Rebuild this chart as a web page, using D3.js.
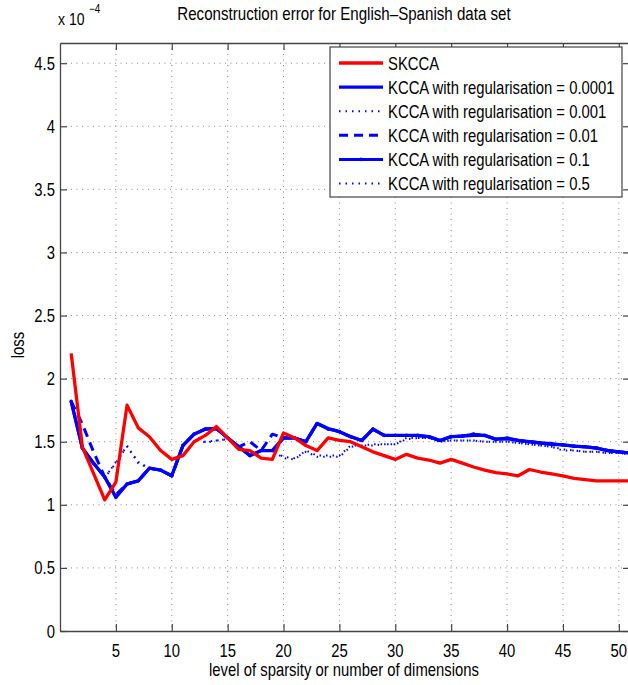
<!DOCTYPE html>
<html>
<head>
<meta charset="utf-8">
<script src="https://cdn.jsdelivr.net/npm/d3@7"></script>
<style>
  body { margin: 0; background: #fff; }
  text { font-family: "Liberation Sans", Arial, Helvetica, sans-serif; fill: #000; }
</style>
</head>
<body>
<svg id="chart" width="628" height="685"></svg>
<script>
// Level of sparsity / number of dimensions
const dims = [1,2,3,4,5,6,7,8,9,10,11,12,13,14,15,16,17,18,19,20,21,22,23,24,25,26,
  27,28,29,30,31,32,33,34,35,36,37,38,39,40,41,42,43,44,45,46,47,48,49,50,51];

// Reconstruction loss, in units of 1e-4
const skcca = [2.20,1.46,1.25,1.04,1.18,1.79,1.61,1.54,1.43,1.36,1.39,1.50,1.55,1.62,1.53,
  1.44,1.43,1.37,1.36,1.57,1.53,1.47,1.43,1.53,1.51,1.50,1.46,1.42,1.39,1.36,1.40,1.37,1.355,
  1.33,1.36,1.33,1.30,1.275,1.255,1.245,1.23,1.28,1.26,1.245,1.23,1.21,1.20,1.19,1.19,1.19,1.19];

const kcca0001 = [1.82,1.45,1.33,1.22,1.06,1.165,1.19,1.29,1.275,1.23,1.47,1.56,1.60,1.605,1.53,
  1.46,1.39,1.43,1.43,1.53,1.53,1.50,1.645,1.605,1.58,1.54,1.51,1.60,1.55,1.55,1.55,1.55,1.54,
  1.51,1.54,1.545,1.55,1.55,1.52,1.525,1.51,1.50,1.49,1.48,1.475,1.465,1.46,1.45,1.43,1.42,1.41];

const kcca001 = [1.82,1.45,1.33,1.22,1.33,1.47,1.33,1.29,1.275,1.23,1.47,1.56,1.49,1.51,1.52,
  1.46,1.39,1.43,1.43,1.37,1.36,1.43,1.39,1.39,1.39,1.47,1.47,1.48,1.48,1.48,1.53,1.53,1.53,
  1.50,1.51,1.51,1.51,1.50,1.50,1.50,1.49,1.48,1.47,1.46,1.43,1.43,1.42,1.42,1.41,1.41,1.40];

const kcca01 = [1.82,1.64,1.42,1.22,1.08,1.165,1.19,1.29,1.275,1.23,1.47,1.56,1.60,1.605,1.53,
  1.46,1.50,1.43,1.56,1.53,1.53,1.50,1.645,1.605,1.58,1.54,1.51,1.60,1.55,1.55,1.55,1.55,1.54,
  1.51,1.54,1.545,1.56,1.55,1.52,1.525,1.51,1.50,1.49,1.48,1.475,1.465,1.46,1.45,1.43,1.42,1.41];

const kcca1 = [1.82,1.45,1.33,1.22,1.06,1.165,1.19,1.29,1.275,1.23,1.47,1.56,1.60,1.605,1.53,
  1.46,1.39,1.43,1.43,1.53,1.53,1.50,1.645,1.60,1.58,1.54,1.51,1.60,1.55,1.55,1.55,1.55,1.54,
  1.51,1.54,1.545,1.56,1.55,1.52,1.53,1.51,1.50,1.49,1.485,1.475,1.465,1.46,1.45,1.43,1.42,1.41];

const kcca5 = [1.82,1.45,1.33,1.21,1.34,1.46,1.34,1.29,1.275,1.23,1.47,1.56,1.50,1.51,1.52,
  1.46,1.39,1.43,1.43,1.38,1.37,1.42,1.38,1.38,1.38,1.46,1.47,1.47,1.48,1.48,1.52,1.53,1.53,
  1.50,1.51,1.51,1.51,1.50,1.50,1.50,1.49,1.48,1.47,1.46,1.44,1.43,1.42,1.42,1.41,1.41,1.40];

const seriesNames = ["SKCCA", "KCCA with regularisation = 0.0001", "KCCA with regularisation = 0.001",
  "KCCA with regularisation = 0.01", "KCCA with regularisation = 0.1", "KCCA with regularisation = 0.5"];
const seriesValues = [skcca, kcca0001, kcca001, kcca01, kcca1, kcca5];

const xTicks = [5,10,15,20,25,30,35,40,45,50];
const yTicks = [0,0.5,1,1.5,2,2.5,3,3.5,4,4.5];
const yTickLabels = ["0","0.5","1","1.5","2","2.5","3","3.5","4","4.5"];

const titleText = "Reconstruction error for English\u2013Spanish data set";
const xLabel = "level of sparsity or number of dimensions";
const yLabel = "loss";

// Line styles per series: colour, width, dash pattern, marker
const styles = [
  { color: "#ff0000", width: 3.3, dash: null, marker: false },
  { color: "#0000ff", width: 3.3, dash: null, marker: false },
  { color: "#0000ff", width: 2, dash: "1.5,5", marker: false },
  { color: "#0000ff", width: 3, dash: "9,6", marker: false },
  { color: "#0000ff", width: 3, dash: null, marker: true },
  { color: "#0000ff", width: 2, dash: "1.5,5", marker: false }
];

const svg = d3.select("#chart");
const L = 60, R = 630, T = 43, B = 631;
const x = d3.scaleLinear().domain([0, 51]).range([L, R]);
const y = d3.scaleLinear().domain([0, 4.66]).range([B, T]);
const sx = 0.825; // horizontal squeeze of text

function addText(g, px, py, str, anchor, size, rot, squeeze) {
  const k = squeeze || sx;
  const tr = `translate(${px},${py})` + (rot ? ` rotate(${rot})` : "") + ` scale(${k},1)`;
  return g.append("text").attr("transform", tr).attr("text-anchor", anchor)
    .style("font-size", size + "px").text(str);
}

svg.append("defs").append("clipPath").attr("id", "plotClip")
  .append("rect").attr("x", L).attr("y", T).attr("width", R - L).attr("height", B - T);

// Grid
const grid = svg.append("g").attr("stroke", "#8a8a8a").attr("stroke-width", 1)
  .attr("stroke-dasharray", "1,4.5");
grid.selectAll("line.v").data(xTicks).join("line").attr("class", "v")
  .attr("x1", d => x(d)).attr("x2", d => x(d)).attr("y1", T).attr("y2", B);
grid.selectAll("line.h").data(yTicks.filter(d => d > 0)).join("line").attr("class", "h")
  .attr("x1", L).attr("x2", R).attr("y1", d => y(d)).attr("y2", d => y(d));

// Axes with inward ticks on all four sides
const axisColor = "#444";
function styleAxis(g) {
  g.select(".domain").attr("stroke", axisColor).attr("stroke-width", 1.3);
  g.selectAll(".tick line").attr("stroke", axisColor).attr("stroke-width", 1.2);
}
const gx = svg.append("g").attr("transform", `translate(0,${B})`)
  .call(d3.axisBottom(x).tickValues(xTicks).tickSize(-7).tickSizeOuter(0).tickFormat(""));
styleAxis(gx);
const gxt = svg.append("g").attr("transform", `translate(0,${T})`)
  .call(d3.axisTop(x).tickValues(xTicks).tickSize(-7).tickSizeOuter(0).tickFormat(""));
styleAxis(gxt);
const gy = svg.append("g").attr("transform", `translate(${L},0)`)
  .call(d3.axisLeft(y).tickValues(yTicks).tickSize(-7).tickSizeOuter(0).tickFormat(""));
styleAxis(gy);
const gyr = svg.append("g").attr("transform", `translate(${R},0)`)
  .call(d3.axisRight(y).tickValues(yTicks).tickSize(-7).tickSizeOuter(0).tickFormat(""));
styleAxis(gyr);

// Tick labels
const labels = svg.append("g");
xTicks.forEach(t => addText(labels, x(t), 657, String(t), "middle", 18));
yTicks.forEach((t, i) => addText(labels, L - 5, y(t) + 6.5, yTickLabels[i], "end", 18));

// Series lines
const line = d3.line().x((d, i) => x(dims[i])).y(d => y(d));
const plot = svg.append("g").attr("clip-path", "url(#plotClip)");
const drawOrder = [5, 4, 3, 2, 1, 0];
drawOrder.forEach(k => {
  const st = styles[k];
  plot.append("path").datum(seriesValues[k]).attr("d", line)
    .attr("fill", "none").attr("stroke", st.color).attr("stroke-width", st.width)
    .attr("stroke-linejoin", "round").attr("stroke-dasharray", st.dash);
  if (st.marker) {
    plot.selectAll(null).data(seriesValues[k]).join("circle")
      .attr("cx", (d, i) => x(dims[i])).attr("cy", d => y(d)).attr("r", 1.8)
      .attr("fill", st.color);
  }
});

// Legend
const lg = svg.append("g");
const lgX = 330, lgY = 47, lgW = 292, lgH = 150, rowH = 24.1;
lg.append("rect").attr("x", lgX).attr("y", lgY).attr("width", lgW).attr("height", lgH)
  .attr("fill", "#fff").attr("stroke", "#444").attr("stroke-width", 1.2);
seriesNames.forEach((name, i) => {
  const cy = lgY + 16 + i * rowH;
  const st = styles[i];
  lg.append("line").attr("x1", 339).attr("x2", 383).attr("y1", cy).attr("y2", cy)
    .attr("stroke", st.color).attr("stroke-width", st.width)
    .attr("stroke-dasharray", st.dash);
  if (st.marker) {
    lg.append("circle").attr("cx", 361).attr("cy", cy).attr("r", 1.8).attr("fill", st.color);
  }
  addText(lg, 388, cy + 6.5, name, "start", 18);
});

// Titles
addText(svg, 344, 20, titleText, "middle", 18, null, 0.84);
addText(svg, 344, 676, xLabel, "middle", 18);
addText(svg, 24, 345, yLabel, "middle", 18, -90);
const expo = svg.append("g");
addText(expo, 58, 25, "x 10", "start", 17);
addText(expo, 89, 13, "\u22124", "start", 12);
</script>
</body>
</html>
